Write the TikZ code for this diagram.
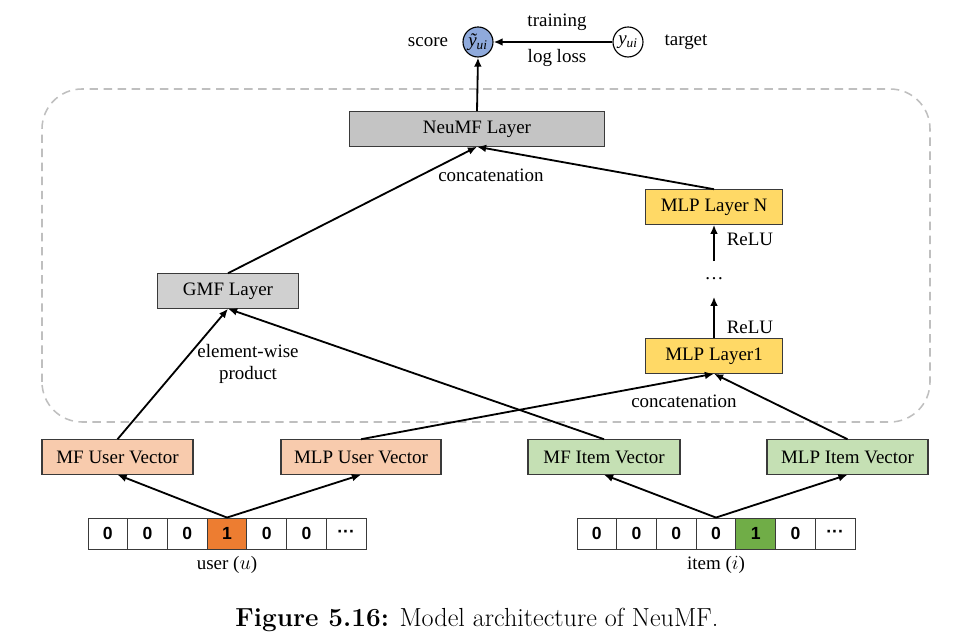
\documentclass[tikz,border=0pt]{standalone}
\usepackage{fontspec}
\newfontfamily\diagfont{Liberation Serif}
\newfontfamily\cellfont{Liberation Sans}
\usepackage{tikz}
\usetikzlibrary{arrows.meta, positioning}
\definecolor{UserFill}{HTML}{F8CBAD}
\definecolor{ItemFill}{HTML}{C5E0B4}
\definecolor{MLPFill}{HTML}{FFD966}
\definecolor{LayerGray}{HTML}{C4C4C4}
\definecolor{GMFGray}{HTML}{D0D0D0}
\definecolor{ScoreBlue}{HTML}{8FAADC}
\definecolor{HotOrange}{HTML}{ED7D31}
\definecolor{HotGreen}{HTML}{70AD47}
\definecolor{DashGray}{HTML}{BFBFBF}
\definecolor{EdgeGray}{HTML}{3A3A3A}
\tikzset{
  layer/.style={
    rectangle, draw=EdgeGray, line width=0.8pt,
    minimum width=#1, minimum height=0.86cm,
    inner sep=0pt, font=\diagfont\fontsize{13.5}{16}\selectfont
  },
  layer/.default=3.5cm,
  cell/.style={
    rectangle, draw=EdgeGray, line width=0.6pt,
    minimum width=0.993cm, minimum height=0.775cm,
    inner sep=0pt, font=\cellfont\bfseries\fontsize{12.5}{15}\selectfont
  },
  lbl/.style={font=\diagfont\fontsize{13.5}{16}\selectfont, inner sep=0pt, align=center},
  unit/.style={
    circle, draw=black, line width=0.8pt,
    minimum size=0.75cm, inner sep=0pt,
    font=\diagfont\itshape\fontsize{13.5}{16}\selectfont
  },
  arr/.style={-{Latex[length=6.5pt, width=5.5pt]}, line width=1.3pt},
}

\begin{document}
\begin{tikzpicture}
\useasboundingbox (0,0) rectangle (24.35,16.025);

% Dashed frame round the fusion part
\draw[DashGray, line width=1.1pt, dash pattern=on 6pt off 4pt, rounded corners=1cm]
  (1.05,5.475) rectangle (23.25,13.8);

% Prediction and target
\node[unit, fill=ScoreBlue] at (11.95,14.975) (score) {ỹ\textsubscript{ui}};
\node[unit, fill=white] at (15.7,14.975) (target) {y\textsubscript{ui}};
\node[lbl] at (10.7,14.975) (scoretxt) {score};
\node[lbl] at (17.15,14.975) (targettxt) {target};
\node[lbl] at (13.925,15.475) (training) {training};
\node[lbl] at (13.925,14.575) (logloss) {log loss};

% NeuMF layer
\node[layer=6.375cm, fill=LayerGray] at (11.925,12.8) (neumf) {NeuMF Layer};
\node[lbl] at (12.275,11.65) (concatup) {concatenation};

% MLP tower
\node[layer=3.425cm, fill=MLPFill] at (17.85,10.85) (mlpN) {MLP Layer N};
\node[lbl, minimum height=0.875cm] at (17.85,9.05) (dots) {\dots};
\node[layer=3.425cm, fill=MLPFill] at (17.85,7.125) (mlp1) {MLP Layer1};
\node[lbl] at (18.75,10.05) (reluN) {ReLU};
\node[lbl] at (18.75,7.85) (relu1) {ReLU};
\node[lbl] at (17.1,6.0) (concatdown) {concatenation};

% GMF part
\node[layer=3.525cm, fill=GMFGray] at (5.7,8.75) (gmf) {GMF Layer};
\node[lbl] at (6.2,6.925) (elemwise) {element-wise\\product};

% Embedding vectors
\node[layer=3.775cm, fill=UserFill] at (2.9375,4.6) (mfu) {MF User Vector};
\node[layer=4cm, fill=UserFill] at (9.025,4.6) (mlpu) {MLP User Vector};
\node[layer=3.8cm, fill=ItemFill] at (15.1,4.6) (mfi) {MF Item Vector};
\node[layer=4.025cm, fill=ItemFill] at (21.1875,4.6) (mlpi) {MLP Item Vector};

% One-hot inputs
\foreach \v/\c [count=\k] in {0/white, 0/white, 0/white, 1/HotOrange, 0/white, 0/white, ···/white}
  \node[cell, fill=\c] at ({2.696+(\k-1)*0.993},2.6875) (u\k) {\v};
\foreach \v/\c [count=\k] in {0/white, 0/white, 0/white, 0/white, 1/HotGreen, 0/white, ···/white}
  \node[cell, fill=\c] at ({14.92+(\k-1)*0.993},2.6875) (i\k) {\v};
\node[lbl] at (5.675,1.9) (usertxt) {user ($u$)};
\node[lbl] at (17.9,1.9) (itemtxt) {item ($i$)};

% Connectors
\draw[arr] (u4.north) -- (mfu.south);
\draw[arr] (u4.north) -- (mlpu.south);
\draw[arr] (i4.north) -- (mfi.south);
\draw[arr] (i4.north) -- (mlpi.south);
\draw[arr] (mfu.north) -- (gmf.south);
\draw[arr] (mfi.north) -- (gmf.south);
\draw[arr] (mlpu.north) -- (mlp1.south);
\draw[arr] (mlpi.north) -- (mlp1.south);
\draw[arr] (mlp1.north) -- (dots.south);
\draw[arr] (dots.north) -- (mlpN.south);
\draw[arr] (gmf.north) -- (neumf.south);
\draw[arr] (mlpN.north) -- (neumf.south);
\draw[arr] (neumf.north) -- (score.south);
\draw[arr] (target.west) -- (score.east);

% Caption
\node[font=\fontsize{18.6}{22}\selectfont] at (11.925,0.525) (caption)
  {\textbf{Figure 5.16:} Model architecture of NeuMF.};

\end{tikzpicture}
\end{document}
